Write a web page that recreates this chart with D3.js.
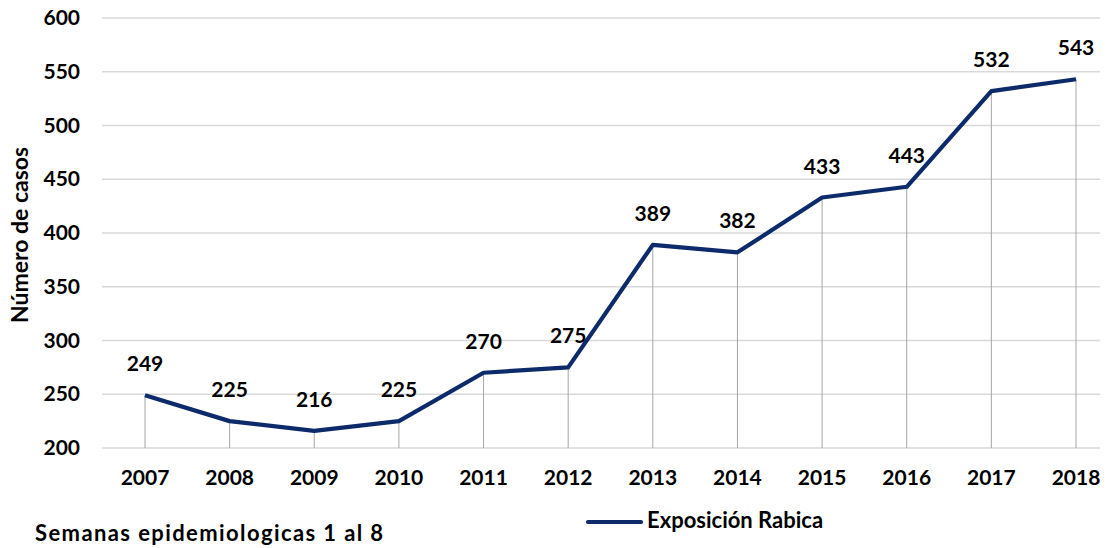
<!DOCTYPE html>
<html><head><meta charset="utf-8">
<script src="https://cdn.jsdelivr.net/npm/d3@7"></script>
<style>body{margin:0;background:#fff}svg{display:block}text{font-family:Lato,"Open Sans",sans-serif;font-weight:bold;fill:#000}</style>
</head><body>
<script>
const years = ["2007","2008","2009","2010","2011","2012","2013","2014","2015","2016","2017","2018"];
const values = [249,225,216,225,270,275,389,382,433,443,532,543];
const yTicks = [200,250,300,350,400,450,500,550,600];
const seriesName = "Exposición Rabica";

(function(){
const W=1107,H=548;
const svg=d3.select("body").append("svg").attr("width",W).attr("height",H);
const pLeft=102,pRight=1100,pTop=18,pBottom=448;
const x=d3.scalePoint().domain(years).range([145,1076]);
const y=d3.scaleLinear().domain([200,600]).range([pBottom,pTop]);

svg.append("g").selectAll("line").data(yTicks).join("line")
 .attr("x1",pLeft).attr("x2",pRight).attr("y1",d=>y(d)).attr("y2",d=>y(d))
 .attr("stroke","#d9d9d9").attr("stroke-width",1.3);

svg.append("g").selectAll("text").data(yTicks).join("text")
 .attr("x",80).attr("y",d=>y(d)+7).attr("text-anchor","end").attr("font-size",21).text(d=>d);

svg.append("g").selectAll("line").data(years).join("line")
 .attr("x1",d=>x(d)).attr("x2",d=>x(d)).attr("y1",(d,i)=>y(values[i])).attr("y2",pBottom)
 .attr("stroke","#a6a6a6").attr("stroke-width",1);

const line=d3.line().x((d,i)=>x(years[i])).y(d=>y(d));
svg.append("path").datum(values).attr("d",line).attr("fill","none")
 .attr("stroke","#0d2a6b").attr("stroke-width",4.2).attr("stroke-linejoin","round");

svg.append("g").selectAll("text").data(values).join("text")
 .attr("x",(d,i)=>x(years[i])).attr("y",d=>y(d)-24).attr("text-anchor","middle")
 .attr("font-size",21).text(d=>d);

svg.append("g").selectAll("text").data(years).join("text")
 .attr("x",d=>x(d)).attr("y",485).attr("text-anchor","middle").attr("font-size",21).text(d=>d);

svg.append("text").attr("transform","translate(28,235) rotate(-90)").attr("text-anchor","middle")
 .attr("font-size",23).text("Número de casos");

svg.append("text").attr("x",35).attr("y",541).attr("font-size",22).style("letter-spacing","1.4px")
 .text("Semanas epidemiologicas 1 al 8");

svg.append("line").attr("x1",588).attr("x2",641).attr("y1",522).attr("y2",522)
 .attr("stroke","#0d2a6b").attr("stroke-width",4.2).attr("stroke-linecap","round");
svg.append("text").attr("x",647).attr("y",528).attr("font-size",22).text(seriesName);
})();
</script>
</body></html>
